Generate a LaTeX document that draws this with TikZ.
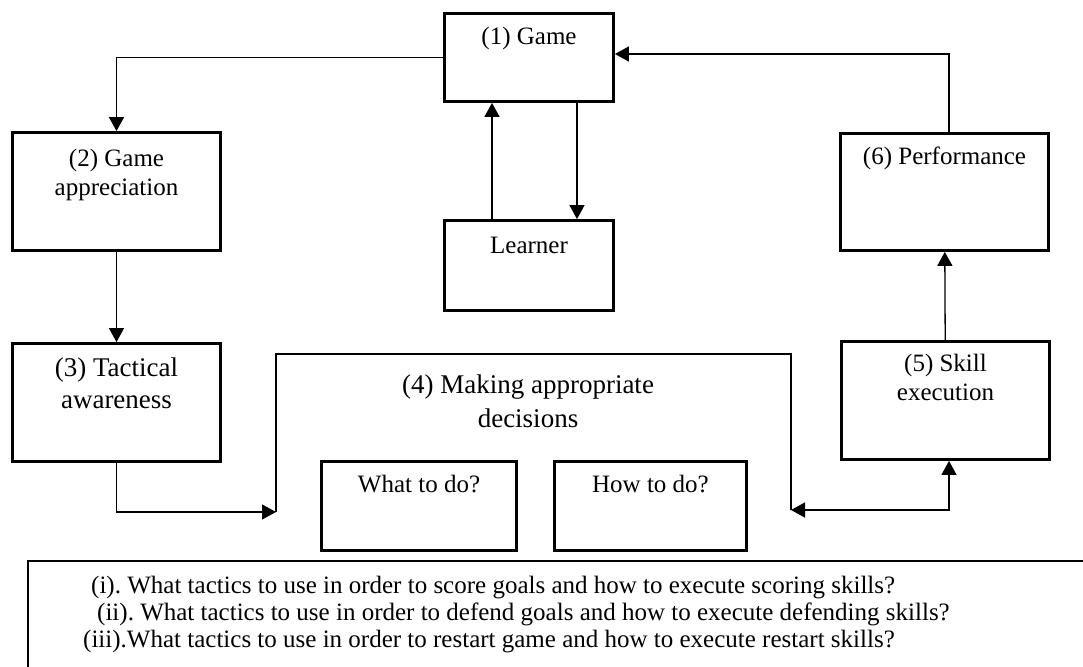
\documentclass[tikz,border=0pt]{standalone}
\usepackage{fontspec}
\setmainfont{Liberation Serif}
\usetikzlibrary{arrows.meta}
\frenchspacing

\begin{document}
\begin{tikzpicture}[x=1pt,y=-1pt,
    every node/.style={font=\fontsize{25}{29}\selectfont},
    big/.style={font=\fontsize{27}{32}\selectfont},
    box/.style={draw, line width=2.8pt, inner sep=0pt},
    tag/.style={anchor=north, inner sep=0pt, align=center, yshift=-#1pt},
    con/.style={line width=1.3pt},
    arr/.style={con, -{Triangle[length=14pt,width=15pt]}},
    ]
    \useasboundingbox (0,0) rectangle (1083,666);
    \clip (0,0) rectangle (1083,666);
    \node[box, minimum width=169, minimum height=88, label={[tag=15]north:{(1) Game}}] (A0_1) at (529,57.5) {};
    \node[box, minimum width=208, minimum height=118, label={[tag=18]north:{(2) Game\\appreciation}}] (A1_0) at (116.5,191.5) {};
    \node[box, minimum width=169, minimum height=90, label={[tag=18]north:{Learner}}] (A1_1) at (529,265.5) {};
    \node[box, minimum width=208, minimum height=117, label={[tag=15]north:{(6) Performance}}] (A1_2) at (944.5,192) {};
    \node[box, minimum width=208, minimum height=118, label={[tag=15, big]north:{(3) Tactical\\awareness}}] (A2_0) at (116.5,402.5) {};
    \node[box, minimum width=208, minimum height=118, label={[tag=14]north:{(5) Skill\\execution}}] (A2_2) at (945.5,400.5) {};
    \node[box, minimum width=195, minimum height=89, label={[tag=15]north:{What to do?}}] (A3_0) at (419,506) {};
    \node[box, minimum width=192, minimum height=89, label={[tag=15]north:{How to do?}}] (A3_1) at (650.5,506) {};
    \node[anchor=north, align=center, inner sep=0pt, font=\fontsize{27}{34}\selectfont] (T4) at (528,375) {(4) Making appropriate\\decisions};
    % open frame round (4)
    \coordinate (B0) at (276,512);
    \coordinate (B1) at (791,510);
    \coordinate (B2) at (533,354);
    \draw[con] (B0) |- (B2) -| (B1);
    \draw[arr] (A0_1.west) -| (A1_0.north);
    \path (A1_0) edge [arr] (A2_0);
    \path ([xshift=-37pt]A1_1.north) edge [arr] ([xshift=-37pt]A0_1.south);
    \path ([xshift=48pt]A0_1.south) edge [arr] ([xshift=48pt]A1_1.north);
    \draw[arr] ([xshift=4.5pt]A1_2.north) |- ([yshift=3.5pt]A0_1.east);
    \path (A2_2) edge [arr] (A1_2);
    \draw[arr] (A2_0.south) |- (B0);
    \draw[con, {Triangle[length=14pt,width=15pt]}-{Triangle[length=14pt,width=15pt]}] (B1) -| ([xshift=3.5pt]A2_2.south);
    % questions
    \draw[con] (28,561) rectangle (1100,700);
    \node[anchor=base west, inner sep=0pt] (L1) at (91,593) {(i). What tactics to use in order to score goals and how to execute scoring skills?};
    \node[anchor=base west, inner sep=0pt] (L2) at (97,620) {(ii). What tactics to use in order to defend goals and how to execute defending skills?};
    \node[anchor=base west, inner sep=0pt] (L3) at (83,647) {(iii).What tactics to use in order to restart game and how to execute restart skills?};
\end{tikzpicture}
\end{document}
